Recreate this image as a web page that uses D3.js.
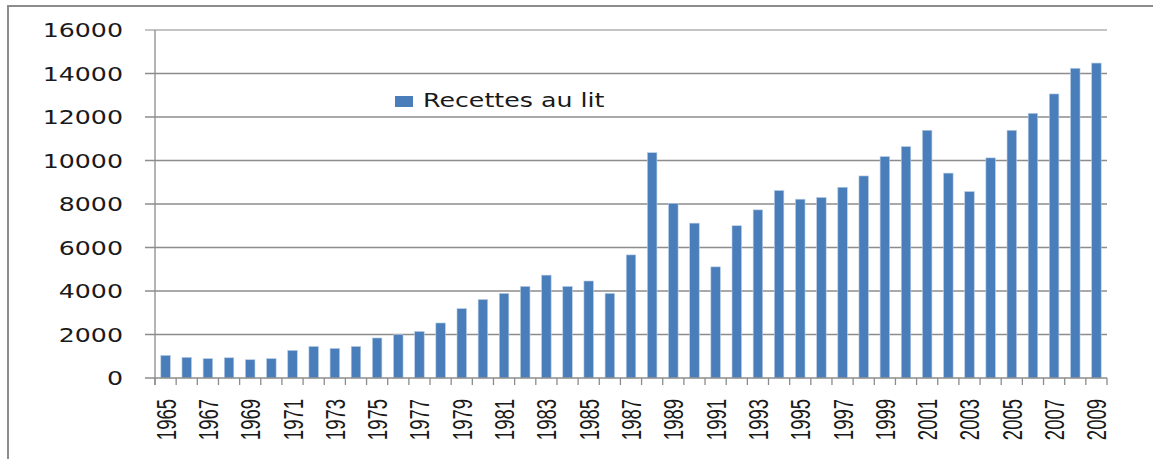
<!DOCTYPE html>
<html>
<head>
<meta charset="utf-8">
<script src="https://cdn.jsdelivr.net/npm/d3@7"></script>
<style>
  body { margin: 0; background: #fff; }
  svg { display: block; }
</style>
</head>
<body>
<script>
// data
const years = d3.range(1965, 2010).map(String);
const recettes = [
    1040, 950, 890, 930, 840, 890, 1270, 1450, 1360, 1450,
    1840, 1990, 2140, 2530, 3190, 3610, 3890, 4210, 4730, 4210,
    4460, 3890, 5660, 10360, 8030, 7120, 5110, 7000, 7730, 8620,
    8220, 8300, 8770, 9290, 10180, 10640, 11390, 9420, 8570, 10120,
    11390, 12170, 13060, 14240, 14480
];
const yTicks = [0, 2000, 4000, 6000, 8000, 10000, 12000, 14000, 16000];
const seriesName = "Recettes au lit";

const width = 1153, height = 459;
const margin = { top: 30, right: 46, bottom: 81, left: 155 };
const stretch = 1.33; // the picture is stretched horizontally

const svg = d3.select("body").append("svg")
    .attr("width", width)
    .attr("height", height);

// outer frame (top and left only visible)
svg.append("path")
    .attr("d", `M8,${height} L8,6 L${width},6`)
    .attr("fill", "none")
    .attr("stroke", "#8c8c8c")
    .attr("stroke-width", 2);

const x = d3.scaleBand()
    .domain(years)
    .range([margin.left, width - margin.right])
    .paddingInner(0.55)
    .paddingOuter(0.275);

const y = d3.scaleLinear()
    .domain([0, 16000])
    .range([height - margin.bottom, margin.top]);

// gridlines + y ticks
svg.append("g")
    .selectAll("line")
    .data(yTicks.filter(d => d > 0))
    .join("line")
    .attr("x1", margin.left - 10)
    .attr("x2", width - margin.right)
    .attr("y1", d => y(d))
    .attr("y2", d => y(d))
    .attr("stroke", d => d === 16000 ? "#c4c4c4" : "#8c8c8c")
    .attr("stroke-width", d => d === 16000 ? 2 : 1.3);

// y labels
svg.append("g")
    .selectAll("text")
    .data(yTicks)
    .join("text")
    .attr("transform", d => `translate(123,${y(d) + 7}) scale(${stretch},1)`)
    .attr("text-anchor", "end")
    .attr("font-family", "DejaVu Sans, Verdana, sans-serif")
    .attr("font-size", 19)
    .attr("fill", "#1a1a1a")
    .text(d => d);

// bars
svg.append("g")
    .selectAll("rect")
    .data(recettes)
    .join("rect")
    .attr("x", (d, i) => x(years[i]))
    .attr("y", d => y(d))
    .attr("width", x.bandwidth())
    .attr("height", d => y(0) - y(d))
    .attr("fill", "#4a7ebb")
    .attr("stroke", "#b9cde5")
    .attr("stroke-width", 0.6);

// axes lines
const x0 = x.range()[0];
svg.append("line")
    .attr("x1", margin.left - 10).attr("x2", width - margin.right)
    .attr("y1", y(0)).attr("y2", y(0))
    .attr("stroke", "#8c8c8c").attr("stroke-width", 1.3);
svg.append("line")
    .attr("x1", margin.left).attr("x2", margin.left)
    .attr("y1", margin.top).attr("y2", y(0) + 7)
    .attr("stroke", "#8c8c8c").attr("stroke-width", 1.3);

// x ticks at category boundaries
svg.append("g")
    .selectAll("line")
    .data(d3.range(years.length + 1))
    .join("line")
    .attr("x1", i => x0 + i * x.step())
    .attr("x2", i => x0 + i * x.step())
    .attr("y1", y(0))
    .attr("y2", y(0) + 7)
    .attr("stroke", "#8c8c8c")
    .attr("stroke-width", 1.3);

// x labels, every other year, rotated
svg.append("g")
    .selectAll("text")
    .data(years.filter((d, i) => i % 2 === 0))
    .join("text")
    .attr("transform", d => `translate(${x(d) + x.bandwidth() / 2},399) scale(1.5,1) rotate(-90)`)
    .attr("text-anchor", "end")
    .attr("dy", "0.36em")
    .attr("font-family", "Liberation Sans, Arial, sans-serif")
    .attr("font-size", 18.5)
    .attr("fill", "#1a1a1a")
    .text(d => d);

// legend
const legend = svg.append("g");
legend.append("rect")
    .attr("x", 395).attr("y", 96)
    .attr("width", 18).attr("height", 11)
    .attr("fill", "#4a7ebb");
legend.append("text")
    .attr("transform", `translate(423,107) scale(${stretch},1)`)
    .attr("font-family", "DejaVu Sans, Verdana, sans-serif")
    .attr("font-size", 19)
    .attr("fill", "#1a1a1a")
    .text(seriesName);
</script>
</body>
</html>
